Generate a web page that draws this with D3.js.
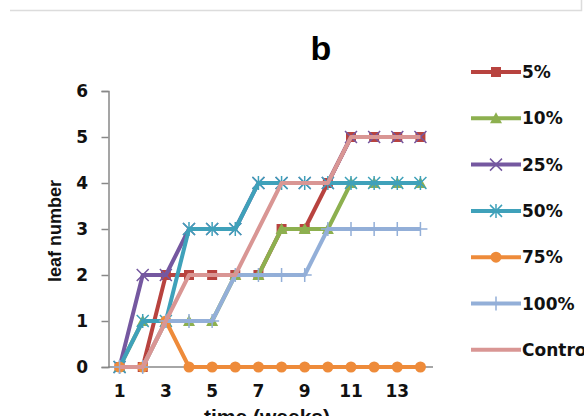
<!DOCTYPE html>
<html lang="en">
<head>
    <title>leaf number</title>
    <script src="https://d3js.org/d3.v7.min.js"></script>
    <style>
        body { margin: 0; background: #fff; }
        * { font-family: "Liberation Sans", Arial, sans-serif; }
        .tick-label { font-family: "DejaVu Sans", sans-serif; font-size: 17px; font-weight: bold; fill: #111; }
        .axis-title { font-size: 18px; font-weight: bold; fill: #111; }
        .legend-label { font-family: "DejaVu Sans", sans-serif; font-size: 17px; font-weight: bold; fill: #111; }
    </style>
</head>
<body>
<svg class="chart" width="584" height="416"></svg>
<script>
    // weeks on the x axis
    const weeks = [1, 2, 3, 4, 5, 6, 7, 8, 9, 10, 11, 12, 13, 14];
    const yTicks = [0, 1, 2, 3, 4, 5, 6];
    const xTickLabels = [1, 3, 5, 7, 9, 11, 13];

    // leaf number per treatment
    const p5 = [0, 0, 2, 2, 2, 2, 2, 3, 3, 4, 5, 5, 5, 5];
    const p10 = [0, 1, 1, 1, 1, 2, 2, 3, 3, 3, 4, 4, 4, 4];
    const p25 = [0, 2, 2, 3, 3, 3, 4, 4, 4, 4, 5, 5, 5, 5];
    const p50 = [0, 1, 1, 3, 3, 3, 4, 4, 4, 4, 4, 4, 4, 4];
    const p75 = [0, 0, 1, 0, 0, 0, 0, 0, 0, 0, 0, 0, 0, 0];
    const p100 = [0, 0, 1, 1, 1, 2, 2, 2, 2, 3, 3, 3, 3, 3];
    const control = [0, 0, 1, 2, 2, 2, 3, 4, 4, 4, 5, 5, 5, 5];

    const seriesNames = ["5%", "10%", "25%", "50%", "75%", "100%", "Control"];
    const seriesValues = [p5, p10, p25, p50, p75, p100, control];

    // colors and marker types
    const colors = ["#B8433F", "#8DB04F", "#7558A0", "#3FA1BA", "#EE8B3A", "#93AFD8", "#D99694"];
    const markers = ["square", "triangle", "x", "star", "circle", "plus", "none"];

    const svg = d3.select("svg.chart");

    // thin frame line at the top
    svg.append("path")
        .attr("d", "M10,10.5H581.5V0")
        .attr("fill", "none")
        .attr("stroke", "#dcdcdc")
        .attr("stroke-width", 1.5);

    const x = d3.scalePoint().domain(weeks).range([108, 432]).padding(0.5);
    const y = d3.scaleLinear().domain([0, 6]).range([367, 91]);

    // y axis
    svg.append("g")
        .attr("transform", "translate(108.5,0)")
        .call(d3.axisLeft(y).tickValues(yTicks).tickSize(7).tickFormat(""))
        .call(g => g.selectAll("path, line").attr("stroke", "#888").attr("stroke-width", 1.5));

    svg.selectAll("text.ylab").data(yTicks).enter()
        .append("text").attr("class", "tick-label ylab")
        .attr("x", 88).attr("y", d => y(d) + 6)
        .attr("text-anchor", "end")
        .text(d => d);

    // x axis
    svg.append("line")
        .attr("x1", 108).attr("x2", 433)
        .attr("y1", y(0)).attr("y2", y(0))
        .attr("stroke", "#888").attr("stroke-width", 1.5);

    svg.selectAll("text.xlab").data(xTickLabels).enter()
        .append("text").attr("class", "tick-label xlab")
        .attr("x", d => x(d)).attr("y", 397)
        .attr("text-anchor", "middle")
        .text(d => d);

    // titles
    svg.append("text")
        .attr("x", 321).attr("y", 60)
        .attr("text-anchor", "middle")
        .style("font-size", "34px").style("font-weight", "bold")
        .text("b");

    svg.append("text").attr("class", "axis-title")
        .attr("transform", "translate(61,231) rotate(-90)")
        .attr("text-anchor", "middle")
        .text("leaf number");

    svg.append("text").attr("class", "axis-title")
        .attr("x", 267).attr("y", 424)
        .attr("text-anchor", "middle")
        .style("font-size", "21px")
        .text("time (weeks)");

    // draw a marker of given type
    function drawMarker(g, type, color, cx, cy) {
        if (type === "square") {
            g.append("rect").attr("x", cx - 5).attr("y", cy - 5)
                .attr("width", 10).attr("height", 10).attr("fill", color);
        } else if (type === "triangle") {
            g.append("path").attr("d", `M${cx},${cy - 6}L${cx + 6},${cy + 5}L${cx - 6},${cy + 5}Z`)
                .attr("fill", color);
        } else if (type === "circle") {
            g.append("circle").attr("cx", cx).attr("cy", cy).attr("r", 5.5).attr("fill", color);
        } else if (type === "x") {
            g.append("path").attr("d", `M${cx - 6},${cy - 6}L${cx + 6},${cy + 6}M${cx - 6},${cy + 6}L${cx + 6},${cy - 6}`)
                .attr("stroke", color).attr("stroke-width", 1.5);
        } else if (type === "star") {
            g.append("path").attr("d", `M${cx - 6},${cy - 6}L${cx + 6},${cy + 6}M${cx - 6},${cy + 6}L${cx + 6},${cy - 6}M${cx},${cy - 7}V${cy + 7}`)
                .attr("stroke", color).attr("stroke-width", 1.5);
        } else if (type === "plus") {
            g.append("path").attr("d", `M${cx},${cy - 7}V${cy + 7}M${cx - 7},${cy}H${cx + 7}`)
                .attr("stroke", color).attr("stroke-width", 1.5);
        }
    }

    const line = d3.line().x((d, i) => x(weeks[i])).y(d => y(d));

    seriesValues.forEach((vals, k) => {
        const g = svg.append("g");
        g.append("path")
            .attr("d", line(vals))
            .attr("fill", "none")
            .attr("stroke", colors[k])
            .attr("stroke-width", 4)
            .attr("stroke-linejoin", "round");
        vals.forEach((v, i) => drawMarker(g, markers[k], colors[k], x(weeks[i]), y(v)));
    });

    // legend
    svg.selectAll("g.legend").data(seriesNames).enter()
        .append("g").attr("class", "legend")
        .attr("transform", (d, i) => `translate(0,${72 + i * 46.3})`)
        .each(function(d, i) {
            const entry = d3.select(this);
            entry.append("line")
                .attr("x1", 471).attr("x2", 521)
                .attr("stroke", colors[i]).attr("stroke-width", 4);
            drawMarker(entry, markers[i], colors[i], 496, 0);
            entry.append("text").attr("class", "legend-label")
                .attr("x", 522).attr("y", 6)
                .text(d);
        });
</script>
</body>
</html>
